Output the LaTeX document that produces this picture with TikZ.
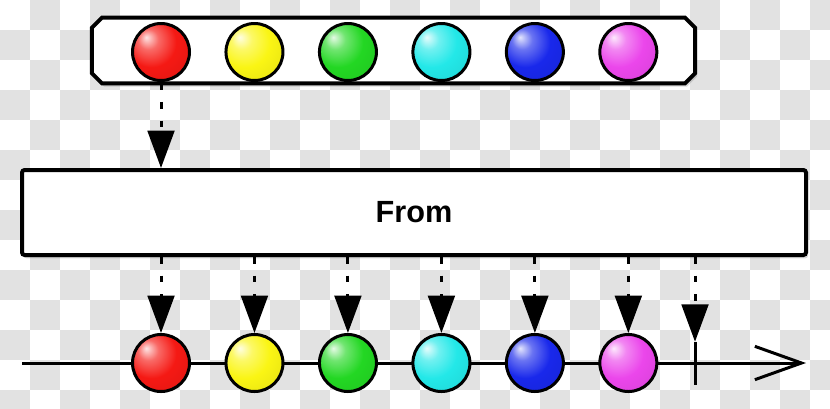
\documentclass[tikz,border=0pt]{standalone}
\usepackage{fontspec}
\setmainfont{Liberation Sans}
\usepackage{xcolor}
\usetikzlibrary{arrows.meta, positioning, shadows}

\definecolor{chk}{RGB}{226,226,226}
\definecolor{mred}{RGB}{245,25,20}
\definecolor{myellow}{RGB}{250,245,20}
\definecolor{mgreen}{RGB}{35,215,35}
\definecolor{mcyan}{RGB}{35,232,232}
\definecolor{mblue}{RGB}{25,40,235}
\definecolor{mmagenta}{RGB}{235,70,235}
\colorlet{mcol}{mred}
\pgfdeclareradialshading[mcol]{marble}{\pgfqpoint{-13bp}{13bp}}{%
  color(0bp)=(mcol!12!white); color(9bp)=(mcol!65!white); color(22bp)=(mcol);
  color(40bp)=(mcol!92!black); color(65bp)=(mcol!78!black)}

\begin{document}
\begin{tikzpicture}[x=0.75pt,y=-0.75pt,node distance=70.1pt,on grid,
    tint/.style={/utils/exec={\colorlet{mcol}{#1}},shading=marble}]
    \tikzstyle{marble}=[shape=circle,draw,line width=2.25pt,minimum size=42.75pt,inner sep=0pt]
    \tikzstyle{source}=[shape=rectangle,minimum width=452pt,minimum height=48.75pt,inner sep=0pt]
    \tikzstyle{frame}=[line width=3pt,fill=white,drop shadow={shadow xshift=1.5pt,shadow yshift=-2.5pt,opacity=0.3}]
    \tikzstyle{operator}=[shape=rectangle,rounded corners=2pt,draw,line width=3pt,fill=white,minimum width=588pt,minimum height=63.75pt,inner sep=0pt,drop shadow={shadow xshift=1.5pt,shadow yshift=-2.5pt,opacity=0.3}]
    \tikzstyle{emit}=[line width=2.25pt,dash pattern=on 5pt off 9pt,-{Triangle[width=20pt,length=28pt]}]

    \useasboundingbox (0,0) rectangle (830,408);
    % transparency checkerboard
    \foreach \i in {0,...,27}
      \foreach \j in {0,...,13}
        {\ifodd\numexpr\i+\j\relax \fill[chk] (30*\i,30*\j) rectangle ++(30,30); \fi}

    \node[source] (src) at (393.5,50.5) {};
    \draw[frame] ([xshift=7.5pt]src.north west) -- ([xshift=-7.5pt]src.north east)
      -- ([yshift=-7.5pt]src.north east) -- ([yshift=7.5pt]src.south east)
      -- ([xshift=-7.5pt]src.south east) -- ([xshift=7.5pt]src.south west)
      -- ([yshift=7.5pt]src.south west) -- ([yshift=-7.5pt]src.north west) -- cycle;
    \node[operator] (op) at (414,212.5) {\fontsize{23}{27}\selectfont\bfseries From};

    % timeline
    \coordinate (start) at (22,363);
    \coordinate (end) at (806,363);
    \draw[line width=2.25pt,-{Straight Barb[length=35pt,width=25pt]}] (start) -- (end);

    \node[marble,tint=mred] (r1) at (161,52) {};
    \node[marble,tint=myellow,right of=r1] (r2) {};
    \node[marble,tint=mgreen,right of=r2] (r3) {};
    \node[marble,tint=mcyan,right of=r3] (r4) {};
    \node[marble,tint=mblue,right of=r4] (r5) {};
    \node[marble,tint=mmagenta,right of=r5] (r6) {};

    \node[marble,tint=mred] (o1) at (161,363) {};
    \node[marble,tint=myellow,right of=o1] (o2) {};
    \node[marble,tint=mgreen,right of=o2] (o3) {};
    \node[marble,tint=mcyan,right of=o3] (o4) {};
    \node[marble,tint=mblue,right of=o4] (o5) {};
    \node[marble,tint=mmagenta,right of=o5] (o6) {};

    % completion
    \node[inner sep=0pt,minimum width=0pt,minimum height=32.25pt] (done) at (695,363.5) {};
    \draw[line width=2.25pt] (done.north) -- (done.south);

    \path[emit]
    (src.south -| r1) edge (op.north -| r1)
    (op.south -| o1) edge (o1.north)
    (op.south -| o2) edge (o2.north)
    (op.south -| o3) edge (o3.north)
    (op.south -| o4) edge (o4.north)
    (op.south -| o5) edge (o5.north)
    (op.south -| o6) edge (o6.north)
    (op.south -| done) edge (done.north)
    ;
\end{tikzpicture}
\end{document}
